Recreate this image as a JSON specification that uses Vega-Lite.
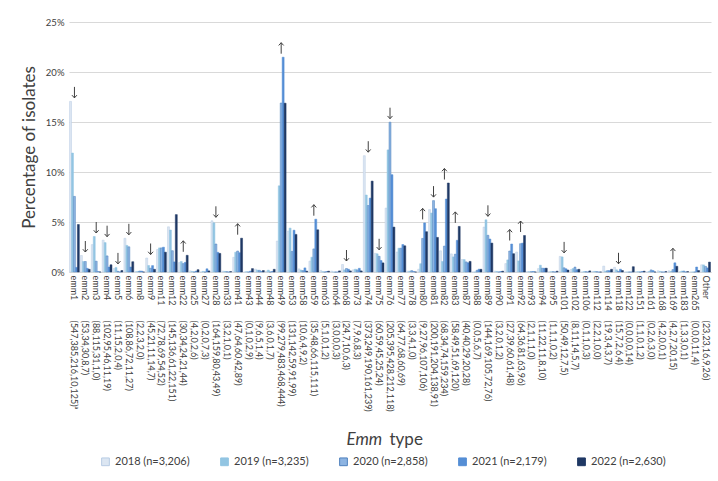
{
  "$schema": "https://vega.github.io/schema/vega-lite/v6.json",
  "width": 642,
  "height": 250,
  "autosize": "none",
  "padding": {"left": 69, "top": 22, "right": 7, "bottom": 209},
  "background": "white",
  "config": {
    "view": {"stroke": null},
    "font": "Lato",
    "axis": {"labelColor": "#404040", "titleColor": "#404040", "labelFont": "Lato", "titleFont": "Lato"},
    "axisY": {
      "values": [0,1,2,3,4,5,6,7,8,9,10,11,12,13,14,15,16,17,18,19,20,21,22,23,24,25],
      "labelExpr": "datum.value % 5 === 0 ? datum.value + '%' : ''",
      "labelFontSize": 9.5, "labelPadding": 5, "ticks": false, "domain": false,
      "gridColor": {"condition": {"test": "datum.value % 5 === 0", "value": "#d9d9d9"}, "value": "#f0f0f0"},
      "gridWidth": 1.2,
      "titleFontSize": 17, "titleFontWeight": "normal", "titlePadding": 7
    },
    "legend": {"labelFont": "Lato"}
  },
  "data": {"values": [
    {"label": "emm1 (547,385,216,10,125)ᵃ", "arrow": "↓", "top": 17.06, "2018": 17.06, "2019": 11.90, "2020": 7.56, "2021": 0.46, "2022": 4.75},
    {"label": "emm2 (53,34,30,8,7)", "arrow": "↓", "top": 1.65, "2018": 1.65, "2019": 1.05, "2020": 1.05, "2021": 0.37, "2022": 0.27},
    {"label": "emm3 (88,115,31,1,0)", "arrow": "↓", "top": 3.55, "2018": 2.74, "2019": 3.55, "2020": 1.08, "2021": 0.05, "2022": 0},
    {"label": "emm4 (102,95,46,11,19)", "arrow": "↓", "top": 3.18, "2018": 3.18, "2019": 2.94, "2020": 1.61, "2021": 0.50, "2022": 0.72},
    {"label": "emm5 (11,15,2,0,4)", "arrow": "↓", "top": 0.46, "2018": 0.34, "2019": 0.46, "2020": 0.07, "2021": 0, "2022": 0.15},
    {"label": "emm6 (108,86,72,11,27)", "arrow": "↓", "top": 3.37, "2018": 3.37, "2019": 2.66, "2020": 2.52, "2021": 0.50, "2022": 1.03},
    {"label": "emm8 (2,2,3,2,0)", "arrow": "", "top": 0.10, "2018": 0.06, "2019": 0.06, "2020": 0.10, "2021": 0.09, "2022": 0},
    {"label": "emm9 (45,21,11,14,7)", "arrow": "↓", "top": 1.40, "2018": 1.40, "2019": 0.65, "2020": 0.38, "2021": 0.64, "2022": 0.27},
    {"label": "emm11 (72,78,69,54,52)", "arrow": "", "top": 2.48, "2018": 2.25, "2019": 2.41, "2020": 2.41, "2021": 2.48, "2022": 1.98},
    {"label": "emm12 (145,136,61,22,151)", "arrow": "", "top": 5.74, "2018": 4.52, "2019": 4.20, "2020": 2.13, "2021": 1.01, "2022": 5.74},
    {"label": "emm22 (30,34,24,21,44)", "arrow": "↑", "top": 1.67, "2018": 0.94, "2019": 1.05, "2020": 0.84, "2021": 0.96, "2022": 1.67},
    {"label": "emm25 (4,2,0,2,6)", "arrow": "", "top": 0.23, "2018": 0.12, "2019": 0.06, "2020": 0, "2021": 0.09, "2022": 0.23},
    {"label": "emm27 (0,2,0,7,3)", "arrow": "", "top": 0.32, "2018": 0, "2019": 0.06, "2020": 0, "2021": 0.32, "2022": 0.11},
    {"label": "emm28 (164,159,80,43,49)", "arrow": "↓", "top": 5.12, "2018": 5.12, "2019": 4.92, "2020": 2.80, "2021": 1.97, "2022": 1.86},
    {"label": "emm33 (3,2,1,0,1)", "arrow": "", "top": 0.09, "2018": 0.09, "2019": 0.06, "2020": 0.03, "2021": 0, "2022": 0.04},
    {"label": "emm41 (47,64,60,42,89)", "arrow": "↑", "top": 3.38, "2018": 1.47, "2019": 1.98, "2020": 2.10, "2021": 1.93, "2022": 3.38},
    {"label": "emm43 (0,1,0,2,9)", "arrow": "", "top": 0.34, "2018": 0, "2019": 0.03, "2020": 0, "2021": 0.09, "2022": 0.34},
    {"label": "emm44 (9,6,5,1,4)", "arrow": "", "top": 0.28, "2018": 0.28, "2019": 0.19, "2020": 0.17, "2021": 0.05, "2022": 0.15},
    {"label": "emm48 (3,6,0,1,7)", "arrow": "", "top": 0.27, "2018": 0.09, "2019": 0.19, "2020": 0, "2021": 0.05, "2022": 0.27},
    {"label": "emm49 (99,279,483,468,444)", "arrow": "↑", "top": 21.48, "2018": 3.09, "2019": 8.62, "2020": 16.90, "2021": 21.48, "2022": 16.88},
    {"label": "emm53 (131,142,59,91,99)", "arrow": "", "top": 4.39, "2018": 4.09, "2019": 4.39, "2020": 2.06, "2021": 4.18, "2022": 3.76},
    {"label": "emm58 (10,6,4,9,2)", "arrow": "", "top": 0.41, "2018": 0.31, "2019": 0.19, "2020": 0.14, "2021": 0.41, "2022": 0.08},
    {"label": "emm59 (35,48,66,115,111)", "arrow": "↑", "top": 5.28, "2018": 1.09, "2019": 1.48, "2020": 2.31, "2021": 5.28, "2022": 4.22},
    {"label": "emm63 (5,1,0,1,2)", "arrow": "", "top": 0.16, "2018": 0.16, "2019": 0.03, "2020": 0, "2021": 0.05, "2022": 0.08},
    {"label": "emm64 (3,0,0,0,3)", "arrow": "", "top": 0.11, "2018": 0.09, "2019": 0, "2020": 0, "2021": 0, "2022": 0.11},
    {"label": "emm68 (24,7,10,6,3)", "arrow": "↓", "top": 0.75, "2018": 0.75, "2019": 0.22, "2020": 0.35, "2021": 0.28, "2022": 0.11},
    {"label": "emm73 (7,9,6,8,3)", "arrow": "", "top": 0.37, "2018": 0.22, "2019": 0.28, "2020": 0.21, "2021": 0.37, "2022": 0.11},
    {"label": "emm74 (373,249,190,161,239)", "arrow": "↓", "top": 11.63, "2018": 11.63, "2019": 7.70, "2020": 6.65, "2021": 7.39, "2022": 9.09},
    {"label": "emm75 (60,59,45,25,24)", "arrow": "↓", "top": 1.87, "2018": 1.87, "2019": 1.82, "2020": 1.57, "2021": 1.15, "2022": 0.91},
    {"label": "emm76 (205,395,428,212,118)", "arrow": "↓", "top": 14.98, "2018": 6.39, "2019": 12.21, "2020": 14.98, "2021": 9.73, "2022": 4.49},
    {"label": "emm77 (64,77,68,60,69)", "arrow": "", "top": 2.75, "2018": 2.00, "2019": 2.38, "2020": 2.38, "2021": 2.75, "2022": 2.62},
    {"label": "emm78 (3,3,4,1,0)", "arrow": "", "top": 0.14, "2018": 0.09, "2019": 0.09, "2020": 0.14, "2021": 0.05, "2022": 0},
    {"label": "emm80 (9,27,96,107,106)", "arrow": "↑", "top": 4.91, "2018": 0.28, "2019": 0.83, "2020": 3.36, "2021": 4.91, "2022": 4.03},
    {"label": "emm81 (200,191,204,138,91)", "arrow": "↓", "top": 7.14, "2018": 6.24, "2019": 5.90, "2020": 7.14, "2021": 6.33, "2022": 3.46},
    {"label": "emm82 (68,34,74,159,234)", "arrow": "↑", "top": 8.90, "2018": 2.12, "2019": 1.05, "2020": 2.59, "2021": 7.30, "2022": 8.90},
    {"label": "emm83 (58,49,51,69,120)", "arrow": "↑", "top": 4.56, "2018": 1.81, "2019": 1.51, "2020": 1.78, "2021": 3.17, "2022": 4.56},
    {"label": "emm87 (40,40,29,20,28)", "arrow": "", "top": 1.25, "2018": 1.25, "2019": 1.24, "2020": 1.01, "2021": 0.92, "2022": 1.06},
    {"label": "emm88 (0,0,5,6,7)", "arrow": "", "top": 0.28, "2018": 0, "2019": 0, "2020": 0.17, "2021": 0.28, "2022": 0.27},
    {"label": "emm89 (144,169,105,72,76)", "arrow": "↓", "top": 5.22, "2018": 4.49, "2019": 5.22, "2020": 3.67, "2021": 3.30, "2022": 2.89},
    {"label": "emm90 (3,2,0,1,2)", "arrow": "", "top": 0.09, "2018": 0.09, "2019": 0.06, "2020": 0, "2021": 0.05, "2022": 0.08},
    {"label": "emm91 (27,39,60,61,48)", "arrow": "↑", "top": 2.80, "2018": 0.84, "2019": 1.21, "2020": 2.10, "2021": 2.80, "2022": 1.83},
    {"label": "emm92 (64,36,81,63,96)", "arrow": "↑", "top": 3.65, "2018": 2.00, "2019": 1.11, "2020": 2.83, "2021": 2.89, "2022": 3.65},
    {"label": "emm93 (2,1,1,1,0)", "arrow": "", "top": 0.06, "2018": 0.06, "2019": 0.03, "2020": 0.03, "2021": 0.05, "2022": 0},
    {"label": "emm94 (11,22,11,8,10)", "arrow": "", "top": 0.68, "2018": 0.34, "2019": 0.68, "2020": 0.38, "2021": 0.37, "2022": 0.38},
    {"label": "emm95 (1,1,1,0,2)", "arrow": "", "top": 0.08, "2018": 0.03, "2019": 0.03, "2020": 0.03, "2021": 0, "2022": 0.08},
    {"label": "emm101 (50,49,12,7,5)", "arrow": "↓", "top": 1.56, "2018": 1.56, "2019": 1.51, "2020": 0.42, "2021": 0.32, "2022": 0.19},
    {"label": "emm102 (8,11,14,5,7)", "arrow": "", "top": 0.49, "2018": 0.25, "2019": 0.34, "2020": 0.49, "2021": 0.23, "2022": 0.27},
    {"label": "emm106 (0,1,1,0,3)", "arrow": "", "top": 0.11, "2018": 0, "2019": 0.03, "2020": 0.03, "2021": 0, "2022": 0.11},
    {"label": "emm112 (2,2,1,0,0)", "arrow": "", "top": 0.06, "2018": 0.06, "2019": 0.06, "2020": 0.03, "2021": 0, "2022": 0},
    {"label": "emm114 (19,3,4,3,7)", "arrow": "", "top": 0.59, "2018": 0.59, "2019": 0.09, "2020": 0.14, "2021": 0.14, "2022": 0.27},
    {"label": "emm118 (15,7,2,6,4)", "arrow": "↓", "top": 0.47, "2018": 0.47, "2019": 0.22, "2020": 0.07, "2021": 0.28, "2022": 0.15},
    {"label": "emm122 (0,0,0,0,14)", "arrow": "", "top": 0.53, "2018": 0, "2019": 0, "2020": 0, "2021": 0, "2022": 0.53},
    {"label": "emm151 (1,1,0,1,2)", "arrow": "", "top": 0.08, "2018": 0.03, "2019": 0.03, "2020": 0, "2021": 0.05, "2022": 0.08},
    {"label": "emm161 (0,2,6,3,0)", "arrow": "", "top": 0.21, "2018": 0, "2019": 0.06, "2020": 0.21, "2021": 0.14, "2022": 0},
    {"label": "emm168 (4,2,0,0,1)", "arrow": "", "top": 0.12, "2018": 0.12, "2019": 0.06, "2020": 0, "2021": 0, "2022": 0.04},
    {"label": "emm169 (4,2,7,20,15)", "arrow": "↑", "top": 0.92, "2018": 0.12, "2019": 0.06, "2020": 0.24, "2021": 0.92, "2022": 0.57},
    {"label": "emm183 (1,3,3,0,1)", "arrow": "", "top": 0.10, "2018": 0.03, "2019": 0.09, "2020": 0.10, "2021": 0, "2022": 0.04},
    {"label": "emm265 (0,0,0,11,4)", "arrow": "", "top": 0.50, "2018": 0, "2019": 0, "2020": 0, "2021": 0.50, "2022": 0.15},
    {"label": "Other (23,23,16,9,26)", "arrow": "", "top": 0.99, "2018": 0.72, "2019": 0.71, "2020": 0.56, "2021": 0.41, "2022": 0.99}
  ]},
  "resolve": {"axis": {"x": "independent"}},
  "layer": [
    {
      "transform": [{"fold": ["2018", "2019", "2020", "2021", "2022"], "as": ["year", "pct"]}],
      "mark": {"type": "bar", "strokeWidth": 0.5},
      "encoding": {
        "x": {
          "field": "label", "type": "nominal", "sort": null,
          "scale": {"paddingInner": 0.1, "paddingOuter": 0.05},
          "axis": {
            "orient": "bottom", "labelAngle": 90, "labelAlign": "left", "labelBaseline": "middle",
            "labelExpr": "split(datum.value, ' ')[0]", "labelFontSize": 9, "labelPadding": 3,
            "labelOverlap": false, "labelBound": false, "labelFlush": false,
            "ticks": false, "domain": true, "domainColor": "#d9d9d9", "grid": false,
            "title": "Emm", "titleFontStyle": "italic", "titleFontWeight": "normal", "titleFontSize": 17,
            "titleX": 277, "titleY": 167, "titleAlign": "left", "titleBaseline": "middle", "titleAngle": 0
          }
        },
        "xOffset": {"field": "year", "type": "nominal", "sort": null, "scale": {"paddingInner": 0}},
        "y": {
          "field": "pct", "type": "quantitative",
          "scale": {"domain": [0, 25], "nice": false},
          "axis": {"title": "Percentage of isolates"}
        },
        "color": {
          "field": "year", "type": "nominal",
          "scale": {"domain": ["2018", "2019", "2020", "2021", "2022"], "range": ["#dce6f2", "#92c5e2", "#8db4e2", "#558ed5", "#1f3864"]},
          "legend": {
            "orient": "none", "legendX": 31, "legendY": 434, "direction": "horizontal", "columns": 5,
            "title": null, "symbolType": "square", "symbolSize": 60, "symbolStrokeWidth": 1,
            "labelFontSize": 11, "labelColor": "#404040", "columnPadding": 28, "labelOffset": 4,
            "labelExpr": "datum.value == '2018' ? '2018 (n=3,206)' : datum.value == '2019' ? '2019 (n=3,235)' : datum.value == '2020' ? '2020 (n=2,858)' : datum.value == '2021' ? '2021 (n=2,179)' : '2022 (n=2,630)'"
          }
        },
        "stroke": {
          "field": "year", "type": "nominal",
          "scale": {"domain": ["2018", "2019", "2020", "2021", "2022"], "range": ["#b8cce4", "#92c5e2", "#4f81bd", "#558ed5", "#1f3864"]},
          "legend": null
        }
      }
    },
    {
      "transform": [{"filter": {"field": "arrow", "oneOf": ["↑", "↓"]}}],
      "mark": {"type": "point", "filled": false, "stroke": "#404040", "strokeWidth": 1, "size": 121, "yOffset": -9, "opacity": 1},
      "encoding": {
        "x": {
          "field": "label", "type": "nominal", "sort": null,
          "axis": {
            "orient": "bottom", "labelAngle": 90, "labelAlign": "left", "labelBaseline": "middle",
            "labelExpr": "split(datum.value, ' ')[1]", "labelFontSize": 9, "labelPadding": 48,
            "labelOverlap": false, "labelBound": false, "labelFlush": false,
            "ticks": false, "domain": false, "grid": false,
            "title": "type", "titleFontWeight": "normal", "titleFontSize": 17,
            "titleX": 320, "titleY": 167, "titleAlign": "left", "titleBaseline": "middle", "titleAngle": 0
          }
        },
        "y": {"field": "top", "type": "quantitative", "axis": {"title": "Percentage of isolates"}},
        "shape": {
          "field": "arrow", "type": "nominal",
          "scale": {"domain": ["↑", "↓"], "range": ["M0,1L0,-1M-0.45,-0.5L0,-1L0.45,-0.5", "M0,-1L0,1M-0.45,0.5L0,1L0.45,0.5"]},
          "legend": null
        }
      }
    }
  ]
}
